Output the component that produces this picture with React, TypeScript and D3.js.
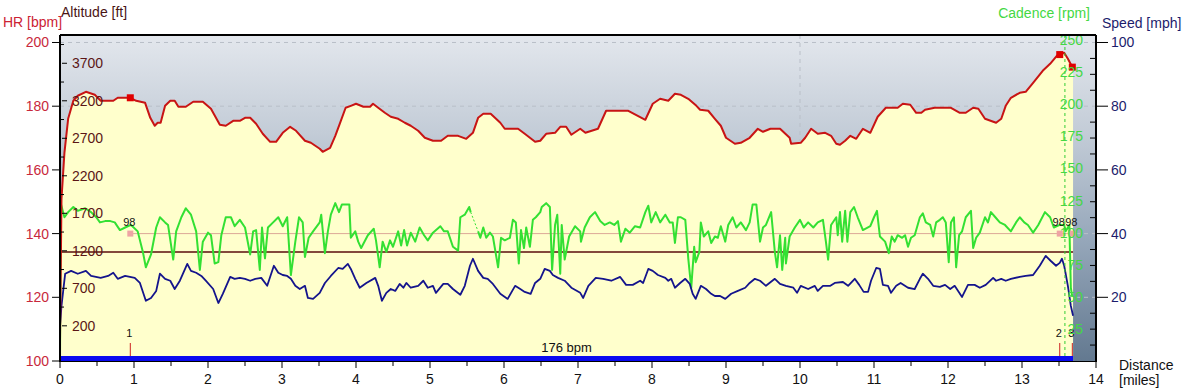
import * as d3 from 'd3'

// ---- data (distance in miles) ----
const altitude: [number, number][] = [
  [0, 0], [0.02, 1890], [0.06, 2510], [0.11, 2960], [0.18, 3200], [0.24, 3267], [0.35, 3320], [0.47, 3280],
  [0.55, 3200], [0.72, 3200], [0.78, 3240], [0.95, 3240], [1.03, 3200], [1.15, 3173], [1.22, 2973], [1.28, 2867],
  [1.32, 2907], [1.36, 2907], [1.42, 3133], [1.49, 3200], [1.55, 3200], [1.6, 3120], [1.7, 3120], [1.8, 3187],
  [1.93, 3187], [2.04, 3093], [2.16, 2880], [2.24, 2867], [2.34, 2933], [2.43, 2933], [2.5, 2973], [2.57, 2973],
  [2.65, 2893], [2.74, 2760], [2.84, 2653], [2.92, 2653], [3.01, 2773], [3.11, 2853], [3.19, 2800], [3.31, 2667],
  [3.39, 2640], [3.51, 2560], [3.55, 2520], [3.65, 2573], [3.72, 2733], [3.78, 2893], [3.86, 3107], [3.93, 3133],
  [4.0, 3160], [4.1, 3120], [4.19, 3120], [4.23, 3160], [4.3, 3107], [4.39, 3040], [4.47, 2987], [4.57, 2960],
  [4.66, 2907], [4.74, 2867], [4.84, 2800], [4.93, 2707], [5.04, 2667], [5.15, 2667], [5.24, 2733], [5.38, 2733],
  [5.49, 2693], [5.58, 2773], [5.65, 2973], [5.72, 3027], [5.82, 3027], [5.95, 2907], [6.01, 2827], [6.19, 2827],
  [6.28, 2760], [6.42, 2653], [6.49, 2667], [6.57, 2760], [6.69, 2773], [6.76, 2853], [6.84, 2853], [6.91, 2747],
  [7.03, 2827], [7.1, 2773], [7.27, 2827], [7.38, 3067], [7.68, 3067], [7.91, 2947], [8.01, 3160], [8.11, 3227],
  [8.22, 3200], [8.31, 3293], [8.39, 3280], [8.49, 3227], [8.6, 3133], [8.65, 3080], [8.76, 3067], [8.85, 2960],
  [8.93, 2867], [9.0, 2707], [9.12, 2627], [9.2, 2640], [9.32, 2707], [9.43, 2827], [9.5, 2787], [9.6, 2827],
  [9.73, 2827], [9.86, 2707], [9.88, 2627], [10.01, 2640], [10.07, 2707], [10.15, 2827], [10.24, 2760], [10.34, 2773],
  [10.42, 2733], [10.49, 2627], [10.54, 2613], [10.61, 2667], [10.68, 2733], [10.76, 2693], [10.85, 2827], [10.95, 2773],
  [11.05, 2987], [11.16, 3107], [11.32, 3107], [11.39, 3160], [11.49, 3147], [11.57, 3040], [11.64, 3040], [11.69, 3080],
  [11.82, 3107], [12.04, 3107], [12.16, 3040], [12.24, 3040], [12.34, 3107], [12.41, 3093], [12.5, 2960], [12.65, 2907],
  [12.72, 2960], [12.78, 3133], [12.85, 3240], [12.97, 3307], [13.05, 3320], [13.15, 3440], [13.28, 3600], [13.38, 3693],
  [13.47, 3800], [13.57, 3840], [13.62, 3760], [13.69, 3630],
]

// null = dropout in the recording
const cadence: [number, number | null][] = [
  [0, 0], [0.01, 123], [0.06, 112], [0.11, 116], [0.18, 120], [0.24, 117], [0.34, 119], [0.42, 116], [0.49, 112],
  [0.54, 108], [0.61, 109], [0.68, 109], [0.74, 108], [0.81, 102], [0.88, 104], [0.96, 106], [1.05, 101], [1.12, 85],
  [1.16, 73], [1.23, 83], [1.3, 104], [1.35, 112], [1.42, 108], [1.46, 106], [1.53, 79], [1.57, 101], [1.64, 112],
  [1.7, 119], [1.77, 114], [1.84, 101], [1.89, 71], [1.93, 93], [2.0, 100], [2.04, 98], [2.09, 76], [2.14, 77],
  [2.18, 98], [2.24, 112], [2.31, 112], [2.36, 105], [2.43, 110], [2.5, 104], [2.57, 83], [2.61, 101], [2.65, 102],
  [2.7, 71], [2.73, 104], [2.77, 80], [2.81, 104], [2.88, 108], [2.95, 112], [3.01, 105], [3.07, 112], [3.12, 67],
  [3.18, 93], [3.23, 112], [3.28, 108], [3.31, 81], [3.36, 96], [3.42, 101], [3.51, 108], [3.53, 114], [3.58, 84],
  [3.62, 101], [3.66, 114], [3.72, 123], [3.77, 116], [3.81, 122], [3.91, 122], [3.93, 96], [3.99, 101], [4.03, 93],
  [4.07, 88], [4.16, 98], [4.24, 103], [4.27, 94], [4.32, 73], [4.36, 93], [4.41, 85], [4.46, 94], [4.5, 89],
  [4.57, 101], [4.61, 90], [4.65, 102], [4.69, 90], [4.74, 100], [4.8, 93], [4.86, 104], [4.92, 98], [4.97, 94],
  [5.04, 100], [5.14, 105], [5.19, 101], [5.24, 101], [5.31, 89], [5.38, 86], [5.41, 112], [5.47, 114], [5.53, 120],
  [5.55, 116], [5.6, null], [5.65, 101], [5.68, 96], [5.72, 104], [5.76, 96], [5.81, 100], [5.85, 97], [5.92, 73],
  [5.96, 96], [6.01, 94], [6.08, 96], [6.12, 110], [6.16, 108], [6.2, 76], [6.23, 102], [6.27, 88], [6.3, 104],
  [6.35, 89], [6.39, 110], [6.43, 112], [6.49, 116], [6.51, 120], [6.57, 123], [6.62, 120], [6.65, 71], [6.69, 106],
  [6.72, 114], [6.76, 68], [6.78, 106], [6.82, 79], [6.88, 97], [6.96, 105], [7.03, 101], [7.04, 93], [7.09, 104],
  [7.16, 112], [7.23, 116], [7.3, 109], [7.36, 106], [7.43, 108], [7.49, 106], [7.54, 109], [7.58, 93], [7.64, 103],
  [7.7, 100], [7.77, 105], [7.84, 104], [7.91, 116], [7.95, 121], [7.99, 108], [8.05, 116], [8.11, 108], [8.18, 114],
  [8.24, 108], [8.28, 108], [8.31, 92], [8.35, 112], [8.39, 112], [8.45, 110], [8.49, 80], [8.53, 57], [8.57, 89],
  [8.59, 77], [8.64, 85], [8.66, 108], [8.7, 97], [8.76, 101], [8.8, 92], [8.85, 97], [8.89, 96], [8.93, 105],
  [8.99, 93], [9.03, 106], [9.09, 112], [9.14, 104], [9.2, 108], [9.27, 102], [9.32, 108], [9.36, 122], [9.41, 122],
  [9.46, 93], [9.5, 104], [9.54, 106], [9.61, 116], [9.66, 85], [9.69, 73], [9.73, 98], [9.76, 71], [9.8, 96],
  [9.81, 76], [9.86, 97], [9.93, 104], [10.0, 110], [10.05, 104], [10.11, 108], [10.18, 104], [10.24, 108], [10.31, 110],
  [10.35, 93], [10.38, 79], [10.42, 106], [10.49, 112], [10.51, 98], [10.54, 116], [10.57, 93], [10.61, 117], [10.64, 93],
  [10.68, 116], [10.73, 120], [10.78, 112], [10.85, 102], [10.95, 105], [11.0, 112], [11.04, 117], [11.08, 97], [11.15, 93],
  [11.2, 84], [11.24, 97], [11.28, 93], [11.32, 98], [11.38, 96], [11.42, 98], [11.46, 89], [11.5, 96], [11.55, 98],
  [11.62, 112], [11.66, 115], [11.7, 108], [11.76, 106], [11.8, 97], [11.84, 108], [11.89, 110], [11.93, 112], [11.97, 108],
  [12.01, 77], [12.04, 108], [12.08, 112], [12.11, 73], [12.15, 98], [12.19, 101], [12.24, 112], [12.31, 117], [12.34, 88],
  [12.38, 96], [12.43, 100], [12.5, 112], [12.54, 108], [12.58, 116], [12.64, 112], [12.7, 108], [12.77, 106], [12.85, 101],
  [12.92, 108], [12.97, 112], [13.03, 108], [13.08, 106], [13.15, 100], [13.22, 106], [13.31, 116], [13.38, 112], [13.43, 104],
  [13.51, 106], [13.57, 106], [13.59, 101], [13.64, 106], [13.66, 57], [13.68, 50],
]

const speed: [number, number][] = [
  [0, 11], [0.02, 17.3], [0.07, 27.4], [0.15, 28.3], [0.24, 27.4], [0.35, 28.3], [0.42, 26.7], [0.55, 26.1],
  [0.65, 26.7], [0.72, 27.7], [0.78, 25.8], [0.88, 26.7], [1.01, 26.1], [1.08, 24.5], [1.16, 18.9], [1.23, 19.8],
  [1.3, 22.0], [1.35, 27.4], [1.42, 25.8], [1.49, 25.2], [1.55, 22.6], [1.62, 25.2], [1.72, 30.5], [1.77, 28.3],
  [1.84, 27.7], [1.91, 26.7], [1.97, 25.2], [2.07, 22.6], [2.14, 18.2], [2.2, 21.1], [2.3, 26.4], [2.36, 25.8],
  [2.43, 26.1], [2.5, 25.8], [2.57, 25.2], [2.64, 25.8], [2.72, 26.1], [2.8, 23.6], [2.89, 29.9], [2.95, 27.7],
  [3.01, 27.0], [3.07, 26.7], [3.12, 25.8], [3.18, 23.6], [3.24, 22.6], [3.31, 23.6], [3.35, 19.8], [3.42, 19.5],
  [3.51, 21.4], [3.58, 24.5], [3.66, 26.7], [3.76, 29.2], [3.82, 28.9], [3.89, 30.5], [3.93, 28.9], [3.99, 25.8],
  [4.05, 23.0], [4.14, 24.5], [4.26, 26.1], [4.3, 23.6], [4.35, 18.9], [4.41, 21.4], [4.47, 22.6], [4.53, 22.0],
  [4.59, 24.2], [4.64, 23.0], [4.68, 24.5], [4.74, 23.0], [4.84, 23.6], [4.91, 25.2], [4.97, 23.0], [5.04, 23.6],
  [5.08, 21.4], [5.18, 24.2], [5.24, 24.2], [5.31, 22.6], [5.41, 20.8], [5.47, 23.6], [5.54, 29.9], [5.58, 32.1],
  [5.65, 28.3], [5.72, 26.1], [5.78, 25.8], [5.85, 24.2], [5.95, 21.1], [6.05, 19.5], [6.15, 23.6], [6.22, 22.6],
  [6.28, 21.7], [6.36, 21.1], [6.42, 24.5], [6.49, 25.8], [6.55, 28.9], [6.62, 28.3], [6.66, 27.0], [6.73, 26.1],
  [6.82, 25.2], [6.91, 23.0], [7.03, 21.4], [7.07, 19.8], [7.14, 23.6], [7.24, 26.1], [7.34, 25.8], [7.45, 25.2],
  [7.57, 26.4], [7.65, 23.9], [7.74, 23.9], [7.84, 25.2], [7.88, 24.5], [7.95, 28.9], [8.01, 28.3], [8.08, 27.0],
  [8.18, 26.1], [8.22, 25.2], [8.26, 25.8], [8.31, 23.0], [8.38, 24.5], [8.45, 25.8], [8.51, 24.2], [8.55, 21.1],
  [8.59, 19.5], [8.66, 23.6], [8.73, 22.6], [8.8, 21.1], [8.85, 20.4], [8.92, 20.4], [8.99, 19.5], [9.07, 21.1],
  [9.16, 22.0], [9.26, 23.0], [9.32, 24.5], [9.39, 25.8], [9.46, 25.2], [9.54, 23.6], [9.66, 25.8], [9.73, 24.2],
  [9.81, 23.6], [9.91, 23.0], [9.96, 21.4], [10.01, 23.6], [10.11, 22.6], [10.2, 23.6], [10.24, 22.0], [10.31, 23.6],
  [10.41, 23.6], [10.47, 24.5], [10.58, 24.8], [10.65, 23.6], [10.74, 25.8], [10.8, 23.9], [10.86, 21.7], [10.92, 21.7],
  [10.96, 25.2], [11.03, 29.2], [11.08, 28.9], [11.12, 23.9], [11.19, 23.6], [11.23, 21.4], [11.3, 23.6], [11.36, 24.5],
  [11.46, 23.0], [11.55, 22.6], [11.62, 25.8], [11.66, 27.4], [11.73, 25.8], [11.8, 23.6], [11.89, 23.3], [11.96, 23.9],
  [12.03, 22.6], [12.09, 23.6], [12.19, 20.1], [12.27, 23.9], [12.36, 23.9], [12.43, 23.0], [12.51, 23.9], [12.61, 26.1],
  [12.65, 25.2], [12.72, 25.8], [12.78, 25.2], [12.85, 25.8], [12.97, 26.4], [13.05, 26.7], [13.15, 27.0], [13.24, 29.9],
  [13.32, 33.0], [13.39, 31.4], [13.46, 29.9], [13.51, 30.8], [13.54, 32.1], [13.57, 29.9], [13.62, 23.6], [13.66, 17.3],
  [13.69, 14.2],
]

const lapDistances = [0.95, 13.51, 13.68]
const lapNames = ['1', '2', '3']
const lapValues = ['98', '98', '98']
const lapRefHR = 140
const avgCadence = 85
const hrZoneLabel = '176 bpm'
const cursorMile = 13.58
const rideEnd = 13.69

const distTicks = d3.range(0, 15)
const hrTicks = [100, 120, 140, 160, 180, 200]
const altTicks = [200, 700, 1200, 1700, 2200, 2700, 3200, 3700]
const cadTicks = [25, 50, 75, 100, 125, 150, 175, 200, 225, 250]
const speedTicks = [20, 40, 60, 80, 100]

const FONT = 'Arial, "Liberation Sans", sans-serif'

export default function App() {
  const left = 60, right = 1096, top = 35, bottom = 361

  const x = d3.scaleLinear().domain([0, 14]).range([left, right])
  const yHR = d3.scaleLinear().domain([100, 202.35]).range([bottom, top])
  const ySpeed = d3.scaleLinear().domain([0, 102.35]).range([bottom, top])
  const yCad = d3.scaleLinear().domain([0, 254]).range([bottom, top])
  const yAlt = d3.scaleLinear().domain([-269, 4077]).range([bottom, top])

  const altArea = d3.area<[number, number]>().x(d => x(d[0])).y0(bottom).y1(d => yAlt(d[1]))
  const altLine = d3.line<[number, number]>().x(d => x(d[0])).y(d => yAlt(d[1]))
  const cadLine = d3.line<[number, number | null]>()
    .defined(d => d[1] !== null)
    .x(d => x(d[0])).y(d => yCad(d[1] as number))
  const spdLine = d3.line<[number, number]>().x(d => x(d[0])).y(d => ySpeed(d[1]))

  // dotted bridge over the cadence dropout
  const gapIdx = cadence.findIndex(d => d[1] === null)
  const gap = gapIdx > 0 ? [cadence[gapIdx - 1], cadence[gapIdx + 1]] : null

  const altAt = (m: number) => {
    const i = d3.bisector((d: [number, number]) => d[0]).left(altitude, m)
    const a = altitude[Math.max(0, i - 1)], b = altitude[Math.min(altitude.length - 1, i)]
    if (a[0] === b[0]) return a[1]
    return a[1] + (b[1] - a[1]) * (m - a[0]) / (b[0] - a[0])
  }

  const speedMinor = d3.range(0, 101, 5).filter(v => v % 20 !== 0)
  const altMinor = altTicks.map(v => v + 250)
  const halfMiles = d3.range(0.5, 14, 1)

  return (
    <>
      <style>{'body{margin:0}'}</style>
      <svg width={1188} height={391} style={{ display: 'block', fontFamily: FONT }}>
        <defs>
          <linearGradient id="bg" x1="0" y1="0" x2="0" y2="1">
            <stop offset="0%" stopColor="#e3e7ed" />
            <stop offset="30%" stopColor="#c3ccd7" />
            <stop offset="62%" stopColor="#97a8bb" />
            <stop offset="100%" stopColor="#637990" />
          </linearGradient>
          <clipPath id="plot">
            <rect x={left} y={top} width={right - left} height={bottom - top} />
          </clipPath>
        </defs>

        <rect x={left} y={top} width={right - left} height={bottom - top} fill="url(#bg)" />

        {/* grid */}
        {hrTicks.filter(v => v > 100).map(v => (
          <line key={'g' + v} x1={left} x2={right} y1={yHR(v)} y2={yHR(v)}
            stroke="#b9bfc8" strokeDasharray="4,4" />
        ))}
        <line x1={x(10)} x2={x(10)} y1={top} y2={bottom} stroke="#b9bfc8" strokeDasharray="4,4" />

        <g clipPath="url(#plot)">
          <path d={altArea(altitude) ?? ''} fill="#ffffcc" />

          <line x1={x(0)} x2={x(rideEnd)} y1={yCad(avgCadence)} y2={yCad(avgCadence)}
            stroke="#5a0c0c" strokeWidth={1.5} />
          <line x1={x(lapDistances[0])} x2={x(rideEnd)} y1={yHR(lapRefHR)} y2={yHR(lapRefHR)}
            stroke="#dca898" strokeWidth={1} />

          <path d={cadLine(cadence) ?? ''} fill="none" stroke="#33e033" strokeWidth={2} strokeLinejoin="round" />
          {gap && (
            <line x1={x(gap[0][0])} y1={yCad(gap[0][1] as number)} x2={x(gap[1][0])} y2={yCad(gap[1][1] as number)}
              stroke="#33e033" strokeWidth={1} strokeDasharray="2,2" />
          )}
          <path d={spdLine(speed) ?? ''} fill="none" stroke="#14148c" strokeWidth={1.8} strokeLinejoin="round" />
          <path d={altLine(altitude) ?? ''} fill="none" stroke="#c81414" strokeWidth={2} strokeLinejoin="round" />
        </g>

        {/* lap markers */}
        {lapDistances.map((m, i) => (
          <g key={'lap' + i}>
            <rect x={x(m) - 3.5} y={yAlt(altAt(m)) - 3.5} width={7} height={7} fill="#e00000" />
            <rect x={x(m) - 3} y={yHR(lapRefHR) - 3} width={6} height={6} fill="#eea4a4" />
            <text x={x(m) - 1} y={yHR(lapRefHR) - 8} fontSize={11} textAnchor="middle" fill="#111">{lapValues[i]}</text>
            <line x1={x(m)} x2={x(m)} y1={bottom - 18} y2={bottom - 4} stroke="#cc2020" strokeWidth={1} />
            <text x={x(m) - 1} y={bottom - 24} fontSize={11} textAnchor="middle" fill="#111">{lapNames[i]}</text>
          </g>
        ))}

        {/* cursor */}
        <line x1={x(cursorMile)} x2={x(cursorMile)} y1={top} y2={bottom}
          stroke="#33cc33" strokeWidth={1} strokeDasharray="3,3" />

        {/* HR zone bar */}
        <rect x={x(0)} y={bottom - 5} width={x(rideEnd) - x(0)} height={5.5} fill="#0a0af0" />
        <text x={(x(0) + x(rideEnd)) / 2} y={bottom - 9} fontSize={13} textAnchor="middle" fill="#111">{hrZoneLabel}</text>

        {/* cadence labels */}
        {cadTicks.map(v => (
          <text key={'c' + v} x={1083} y={yCad(v) + 5} fontSize={14} textAnchor="end" fill="#44d844">{v}</text>
        ))}

        {/* frame */}
        <line x1={left} x2={right} y1={top} y2={top} stroke="#000" strokeWidth={2} />
        <line x1={left} x2={left} y1={top} y2={bottom + 1} stroke="#000" strokeWidth={2} />
        <line x1={right} x2={right} y1={top} y2={bottom + 1} stroke="#000" strokeWidth={2} />
        <line x1={left} x2={right} y1={bottom + 0.5} y2={bottom + 0.5} stroke="#000" strokeWidth={1} />

        {/* HR axis */}
        {hrTicks.map(v => (
          <g key={'h' + v}>
            <line x1={left - 8} x2={left} y1={yHR(v)} y2={yHR(v)} stroke="#000" />
            <text x={49} y={yHR(v) + 5} fontSize={14} textAnchor="end" fill="#c8283c">{v}</text>
          </g>
        ))}
        {/* altitude axis */}
        {altTicks.map(v => (
          <g key={'a' + v}>
            <line x1={left + 2} x2={left + 7} y1={yAlt(v)} y2={yAlt(v)} stroke="#000" />
            <text x={72} y={yAlt(v) + 5} fontSize={14} fill="#5b1616">{v}</text>
          </g>
        ))}
        {altMinor.map(v => (
          <line key={'am' + v} x1={left} x2={left + 4} y1={yAlt(v)} y2={yAlt(v)} stroke="#000" />
        ))}

        {/* speed axis */}
        {speedTicks.map(v => (
          <g key={'s' + v}>
            <line x1={right} x2={right + 12} y1={ySpeed(v)} y2={ySpeed(v)} stroke="#000" />
            <text x={1111} y={ySpeed(v) + 5} fontSize={14} fill="#1c1c6c">{v}</text>
          </g>
        ))}
        {speedMinor.map(v => (
          <line key={'sm' + v} x1={right - 6} x2={right} y1={ySpeed(v)} y2={ySpeed(v)} stroke="#000" />
        ))}

        {/* distance axis */}
        {distTicks.map(v => (
          <g key={'d' + v}>
            <line x1={x(v)} x2={x(v)} y1={bottom} y2={bottom + 7} stroke="#000" />
            <text x={x(v)} y={384} fontSize={14} textAnchor="middle" fill="#111">{v}</text>
          </g>
        ))}
        {halfMiles.map(v => (
          <line key={'hm' + v} x1={x(v)} x2={x(v)} y1={bottom} y2={bottom + 5} stroke="#000" />
        ))}

        {/* titles */}
        <text x={3} y={27} fontSize={14} fill="#cc2233">HR [bpm]</text>
        <text x={61} y={17} fontSize={14} fill="#4a1414">Altitude [ft]</text>
        <text x={1090} y={18} fontSize={14} textAnchor="end" fill="#44d844">Cadence [rpm]</text>
        <text x={1102} y={28} fontSize={14} fill="#1c1c6c">Speed [mph]</text>
        <text x={1119} y={370} fontSize={14} fill="#111">Distance</text>
        <text x={1119} y={385} fontSize={14} fill="#111">[miles]</text>
      </svg>
    </>
  )
}
